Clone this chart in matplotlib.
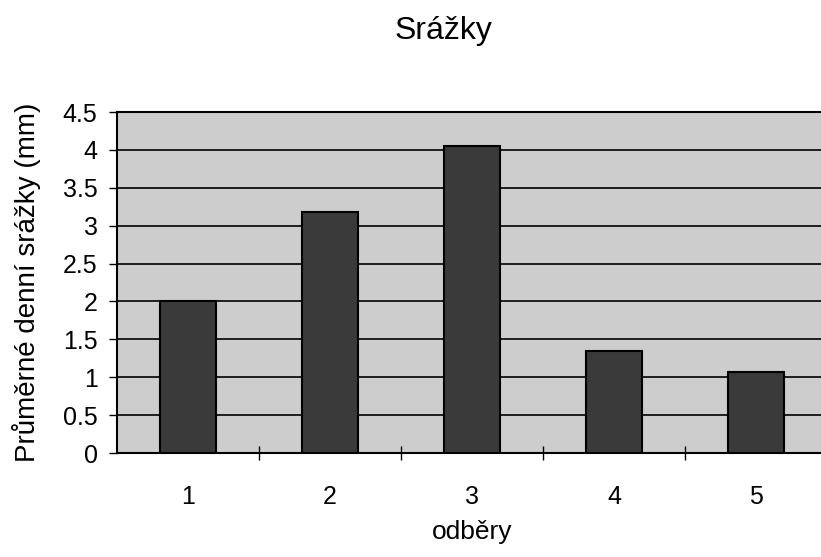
import matplotlib
matplotlib.use("Agg")
import matplotlib.pyplot as plt
import numpy as np

plt.rcParams['font.family'] = ['Liberation Sans', 'DejaVu Sans']

# Data
odbery = ["1", "2", "3", "4", "5"]
srazky = [2.0, 3.18, 4.05, 1.34, 1.07]
y_ticks = [0, 0.5, 1, 1.5, 2, 2.5, 3, 3.5, 4, 4.5]
y_labels = ["0", "0.5", "1", "1.5", "2", "2.5", "3", "3.5", "4", "4.5"]

fig = plt.figure(figsize=(8.21, 5.57), dpi=100)
ax = fig.add_axes([0.1425, 0.1867, 0.8648, 0.6122])

x = np.arange(len(odbery))
ax.set_facecolor('#cdcdcd')
ax.bar(x, srazky, width=0.4, color='#3a3a3a', edgecolor='black', linewidth=1.5, zorder=3)

ax.set_xlim(-0.5, len(odbery) - 0.5)
ax.set_ylim(0, 4.5)
ax.set_yticks(y_ticks)
ax.set_yticklabels(y_labels)
ax.yaxis.grid(True, color='black', linewidth=1.2, zorder=1)
ax.set_axisbelow(True)

ax.set_xticks(x)
ax.set_xticklabels(odbery)
ax.set_xticks(x[:-1] + 0.5, minor=True)
ax.tick_params(axis='x', which='major', length=0, pad=23, labelsize=18)
ax.tick_params(axis='x', which='minor', direction='inout', length=10, width=1)
ax.tick_params(axis='y', length=6, width=1, pad=8, labelsize=18)

for side in ['left', 'bottom', 'top']:
    ax.spines[side].set_linewidth(1.5)
ax.spines['right'].set_visible(False)

ax.set_ylabel('Průměrné denní srážky (mm)', fontsize=20, labelpad=16)
ax.set_xlabel('odběry', fontsize=19, labelpad=8)
fig.text(0.54, 0.944, 'Srážky', ha='center', va='center', fontsize=23)

fig.savefig('out.png', dpi=100)
